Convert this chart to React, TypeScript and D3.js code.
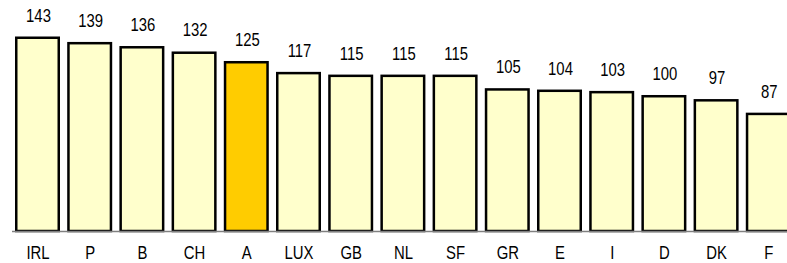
import React from "react";
import * as d3 from "d3";

const countries = ["IRL", "P", "B", "CH", "A", "LUX", "GB", "NL", "SF", "GR", "E", "I", "D", "DK", "F"];
const values = [143, 139, 136, 132, 125, 117, 115, 115, 115, 105, 104, 103, 100, 97, 87];
const highlight = ["A"];

export default function App() {
  const width = 787;
  const height = 263;
  const font = "'Liberation Sans', Arial, sans-serif";
  const stroke = 2.5;
  const squeeze = 0.85; // narrow look of the original font

  const x = d3
    .scaleBand<string>()
    .domain(countries)
    .range([11.4, 794.4])
    .paddingInner(7.2 / 52.2)
    .paddingOuter(3.6 / 52.2);

  const y = d3.scaleLinear().domain([0, 143]).range([231, 36.5]);

  const data = countries.map((c, i) => ({ name: c, value: values[i] }));
  const cx = (n: string) => (x(n) as number) + x.bandwidth() / 2;

  return (
    <svg
      width={width}
      height={height}
      style={{ position: "absolute", left: 0, top: 0, background: "#fff" }}
    >
      {/* bars */}
      <g>
        {data.map((d) => (
          <rect
            key={d.name}
            x={(x(d.name) as number) + stroke / 2}
            y={y(d.value) + stroke / 2}
            width={x.bandwidth() - stroke}
            height={y(0) - y(d.value) - stroke / 2}
            fill={highlight.includes(d.name) ? "#FFCC00" : "#FFFFCC"}
            stroke="#000"
            strokeWidth={stroke}
          />
        ))}
      </g>

      {/* baseline */}
      <line x1={12} x2={width} y1={231.5} y2={231.5} stroke="#808080" strokeWidth={1.5} />

      {/* value labels */}
      <g fontFamily={font} fontSize={17.5} fill="#000" textAnchor="middle">
        {data.map((d) => (
          <text
            key={d.name}
            transform={`translate(${cx(d.name) + 1},${y(d.value) - 15}) scale(${squeeze},1)`}
          >
            {d.value}
          </text>
        ))}
      </g>

      {/* category labels */}
      <g fontFamily={font} fontSize={17.5} fill="#000" textAnchor="middle">
        {data.map((d) => (
          <text key={d.name} transform={`translate(${cx(d.name) + 0.5},259) scale(${squeeze},1)`}>
            {d.name}
          </text>
        ))}
      </g>
    </svg>
  );
}
